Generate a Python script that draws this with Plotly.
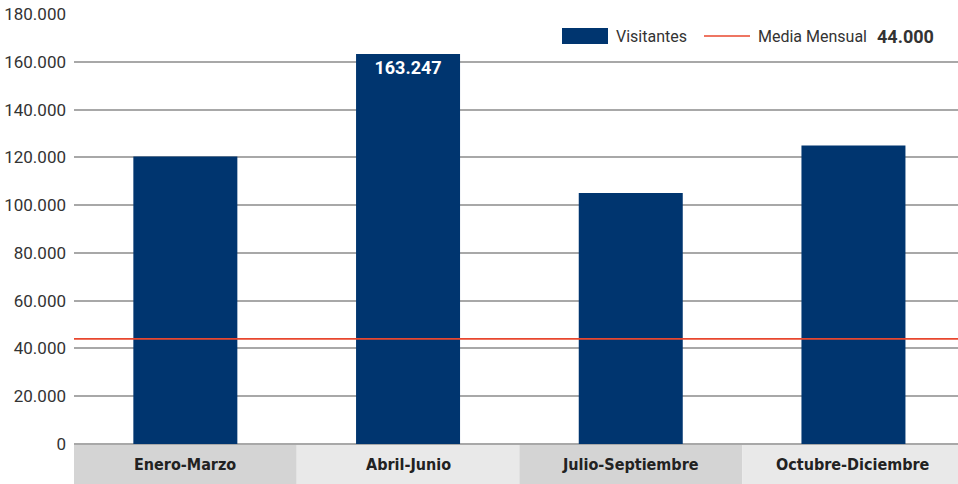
import plotly.graph_objects as go

categorias = ["Enero-Marzo", "Abril-Junio", "Julio-Septiembre", "Octubre-Diciembre"]
visitantes = [120300, 163247, 105100, 125000]
media_mensual = 44000
etiqueta_valor = ["", "163.247", "", ""]
tick_vals = [0, 20000, 40000, 60000, 80000, 100000, 120000, 140000, 160000, 180000]
y_max = 180000

BLUE = "#00356f"
RED = "#e8472e"
GRID = "#a8a8a8"
TXT = "#333333"

W, H = 958, 484
L, R, T, B = 74, 0, 13, 40
pw, ph = W - L - R, H - T - B   # ph = 431 -> top gridline 1px inside the plot area
y_top = y_max * ph / (ph - 1)
band_px = 222.7                 # width of one category slot in the original (last slot is cut by the edge)
x_hi = -0.5 + pw / band_px

def px(x):  # page x -> paper
    return (x - L) / pw

def py(y):  # page y -> paper
    return (H - B - y) / ph

fig = go.Figure()
fig.add_trace(go.Bar(
    x=categorias, y=visitantes, marker_color=BLUE, marker_line_width=0,
    text=etiqueta_valor, textposition="inside", insidetextanchor="end",
    textfont=dict(family="Roboto", size=18, color="white", weight="bold"),
    showlegend=False, hoverinfo="x+y",
))

shapes = []
band_cols = ["#d4d4d4", "#e9e9e9"]
for i, c in enumerate(categorias):
    shapes.append(dict(type="rect", xref="x", yref="paper", x0=i - 0.5, x1=min(i + 0.5, x_hi),
                       y0=-B / ph, y1=0, fillcolor=band_cols[i % 2], line_width=0, layer="below"))
shapes.append(dict(type="line", xref="paper", yref="y", x0=0, x1=1, y0=media_mensual, y1=media_mensual,
                   line=dict(color=RED, width=1.6)))
shapes.append(dict(type="rect", xref="paper", yref="paper", x0=px(562), x1=px(608), y0=py(44), y1=py(28),
                   fillcolor=BLUE, line_width=0))
shapes.append(dict(type="line", xref="paper", yref="paper", x0=px(704), x1=px(750), y0=py(36), y1=py(36),
                   line=dict(color=RED, width=1.6)))

annotations = []
for c in categorias:
    annotations.append(dict(xref="x", yref="paper", x=c, y=-(B / 2) / ph, text="<b>" + c + "</b>", showarrow=False,
                            font=dict(family="DejaVu Sans Condensed", size=16, color="#222222"),
                            xanchor="center", yanchor="middle"))
annotations.append(dict(xref="paper", yref="paper", x=px(614), y=py(36), text="Visitantes", showarrow=False,
                        xanchor="left", yanchor="middle", font=dict(family="Roboto", size=16, color=TXT)))
annotations.append(dict(xref="paper", yref="paper", x=px(756), y=py(36), text="Media Mensual", showarrow=False,
                        xanchor="left", yanchor="middle", font=dict(family="Roboto", size=16, color=TXT)))
annotations.append(dict(xref="paper", yref="paper", x=px(875), y=py(36),
                        text="<b>" + f"{media_mensual:,}".replace(",", ".") + "</b>", showarrow=False,
                        xanchor="left", yanchor="middle", font=dict(family="Roboto", size=18, color=TXT)))

fig.update_layout(
    width=W, height=H, margin=dict(l=L, r=R, t=T, b=B),
    paper_bgcolor="white", plot_bgcolor="white",
    separators=",.",
    bargap=0.533,
    shapes=shapes, annotations=annotations,
    xaxis=dict(range=[-0.5, x_hi], showticklabels=False, showgrid=False, zeroline=False,
               showline=False, ticks=""),
    yaxis=dict(range=[0, y_top], tickvals=tick_vals, tickformat=",d",
               showgrid=True, gridcolor=GRID, gridwidth=1.5,
               zeroline=True, zerolinecolor=GRID, zerolinewidth=1.5,
               showline=False, ticks="", ticklabelstandoff=7, ticklabeloverflow="allow",
               tickfont=dict(family="Roboto", size=17, color=TXT)),
    font=dict(family="Roboto"),
)

fig.write_html("out.html", config={"displayModeBar": False},
               post_script="document.body.style.margin='0';document.body.style.overflow='hidden';")
